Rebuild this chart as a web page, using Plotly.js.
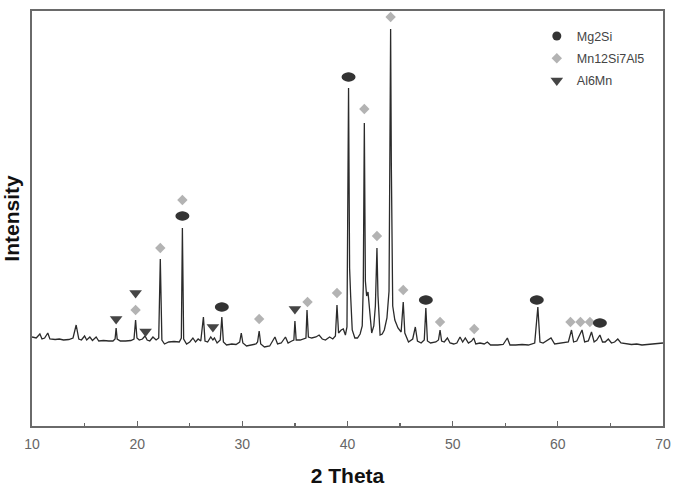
<!DOCTYPE html>
<html>
<head>
<meta charset="utf-8">
<script src="https://cdn.plot.ly/plotly-3.0.1.min.js"></script>
<style>html,body{margin:0;padding:0;background:#fff;}#chart{width:680px;height:487px;}</style>
</head>
<body>
<div id="chart"></div>
<script>
// XRD pattern (2θ in degrees, intensity in arbitrary units)
const twoTheta = [
 10.0,10.4,10.75,10.95,11.2,11.5,11.7,12.2,12.6,13.0,13.5,13.9,14.2,14.45,14.7,15.0,15.2,15.5,15.75,16.1,16.35,16.8,17.3,17.7,17.9,18.0,18.1,18.4,18.9,19.4,19.7,19.85,19.98,20.2,20.5,20.75,20.95,21.2,21.5,21.8,22.05,22.2,22.35,22.6,23.0,23.5,24.0,24.2,24.3,24.42,24.7,25.0,25.3,25.55,25.8,26.05,26.3,26.45,26.7,27.0,27.2,27.35,27.6,27.9,28.05,28.2,28.5,29.0,29.4,29.75,29.9,30.05,30.4,30.9,31.3,31.45,31.6,31.75,32.1,32.6,33.1,33.35,33.7,34.1,34.35,34.7,34.9,35.0,35.12,35.5,35.9,36.05,36.15,36.28,36.6,37.0,37.3,37.6,37.9,38.3,38.6,38.85,39.0,39.15,39.4,39.6,39.8,39.95,40.1,40.2,40.3,40.45,40.7,40.95,41.2,41.4,41.5,41.6,41.7,41.82,41.95,42.1,42.3,42.5,42.65,42.8,42.9,43.1,43.3,43.5,43.75,43.95,44.05,44.1,44.17,44.3,44.5,44.8,45.1,45.3,45.45,45.8,46.2,46.45,46.65,47.0,47.3,47.45,47.6,47.9,48.4,48.65,48.8,48.95,49.2,49.5,49.75,50.1,50.4,50.7,50.95,51.2,51.5,51.8,52.0,52.2,52.6,53.0,53.3,53.6,54.3,54.8,55.2,55.45,56.0,56.6,57.2,57.8,58.1,58.3,58.6,59.35,59.7,60.2,60.6,61.0,61.3,61.5,61.8,62.3,62.55,62.9,63.2,63.45,63.7,64.0,64.25,64.5,64.8,65.1,65.4,65.7,66.0,66.5,67.0,67.5,68.0,68.5,69.0,69.5,70.0
];
const intensity = [
 890,880,920,870,880,930,870,865,870,860,865,880,1010,870,860,900,860,890,855,890,850,855,850,850,870,980,870,850,850,855,870,1060,880,860,870,900,860,850,890,860,880,1670,860,820,840,845,840,880,1980,870,820,840,880,840,870,850,1090,850,840,890,860,880,830,860,1090,840,810,820,815,840,930,830,800,810,820,840,950,820,790,800,890,820,830,890,830,850,860,1050,860,860,870,880,1160,890,880,890,910,870,860,890,870,900,1210,930,960,970,910,990,3380,1580,1300,960,880,880,920,1000,1400,3030,1450,1300,1340,1130,930,1000,1200,1780,1300,910,920,960,1080,1350,2900,3970,2600,1200,1060,980,940,1240,930,840,870,990,850,830,860,1180,850,830,840,860,960,850,840,880,830,820,830,890,840,880,830,850,880,820,830,820,840,810,810,815,880,810,810,815,810,830,1190,840,830,880,820,825,830,840,960,840,850,960,840,850,940,840,860,910,840,840,870,830,840,870,830,820,815,820,810,815,820,825,830
];

// Phase markers
const mg2siX = [24.3, 28.05, 40.1, 47.45, 58.0, 64.0];
const mg2siY = [2100, 1190, 3490, 1260, 1260, 1030];
const mnX = [19.85, 22.2, 24.3, 31.6, 36.2, 39.0, 41.6, 42.8, 44.1, 45.3, 48.8, 52.05, 61.2, 62.15, 63.05];
const mnY = [1160, 1780, 2260, 1070, 1240, 1330, 3170, 1900, 4090, 1360, 1040, 970, 1040, 1040, 1040];
const al6mnX = [18.0, 19.85, 20.8, 27.2, 35.0];
const al6mnY = [1070, 1330, 945, 990, 1170];

const traces = [
  {x: twoTheta, y: intensity, type: 'scatter', mode: 'lines', showlegend: false,
   line: {color: '#2b2b2b', width: 1.3}, hoverinfo: 'skip'},
  {x: mg2siX, y: mg2siY, type: 'scatter', mode: 'markers', name: 'Mg2Si', legendgroup: 'a',
   marker: {symbol: 'circle', size: 9, color: '#333333'}},
  {x: mnX, y: mnY, type: 'scatter', mode: 'markers', name: 'Mn12Si7Al5', legendgroup: 'b',
   marker: {symbol: 'diamond', size: 8, color: '#b3b3b3'}},
  {x: al6mnX, y: al6mnY, type: 'scatter', mode: 'markers', name: 'Al6Mn', legendgroup: 'c',
   marker: {symbol: 'triangle-down', size: 11, color: '#454545'}}
];

const shapes = mg2siX.map((x, i) => ({
  type: 'circle', xref: 'x', yref: 'y', xsizemode: 'pixel', ysizemode: 'pixel',
  xanchor: x, yanchor: mg2siY[i], x0: -7, x1: 7, y0: -4.5, y1: 4.5,
  fillcolor: '#333333', line: {width: 0}, layer: 'above'
}));

const layout = {
  width: 680, height: 487,
  margin: {l: 32, r: 17, t: 11, b: 61},
  paper_bgcolor: '#ffffff', plot_bgcolor: '#ffffff',
  font: {family: 'Liberation Sans, Arial, sans-serif', color: '#555'},
  showlegend: true,
  legend: {x: 0.8, y: 0.975, xanchor: 'left', yanchor: 'top', bgcolor: 'rgba(0,0,0,0)',
           font: {size: 12.5, color: '#444'}, itemwidth: 30,
           traceorder: 'grouped', tracegroupgap: 3},
  xaxis: {
    range: [10, 70], dtick: 10, tick0: 10, ticks: 'inside', ticklen: 5, tickwidth: 1.2, tickcolor: '#666',
    minor: {dtick: 5, ticks: 'inside', ticklen: 3, tickcolor: '#666'},
    showline: true, linecolor: '#6a6a6a', linewidth: 1.6, mirror: true,
    showgrid: false, zeroline: false, ticklabelstandoff: 5,
    tickfont: {size: 14, color: '#666'},
    title: {text: '2 Theta', font: {size: 21, color: '#111', family: 'Liberation Sans, Arial, sans-serif', weight: 'bold'}, standoff: 34}
  },
  yaxis: {
    range: [0, 4150], showticklabels: false, ticks: '',
    showline: true, linecolor: '#6a6a6a', linewidth: 1.6, mirror: true,
    showgrid: false, zeroline: false,
    title: {text: 'Intensity', font: {size: 21, color: '#111', family: 'Liberation Sans, Arial, sans-serif', weight: 'bold'}, standoff: 6}
  },
  shapes: shapes
};

Plotly.newPlot('chart', traces, layout, {staticPlot: true, displayModeBar: false});
</script>
</body>
</html>
